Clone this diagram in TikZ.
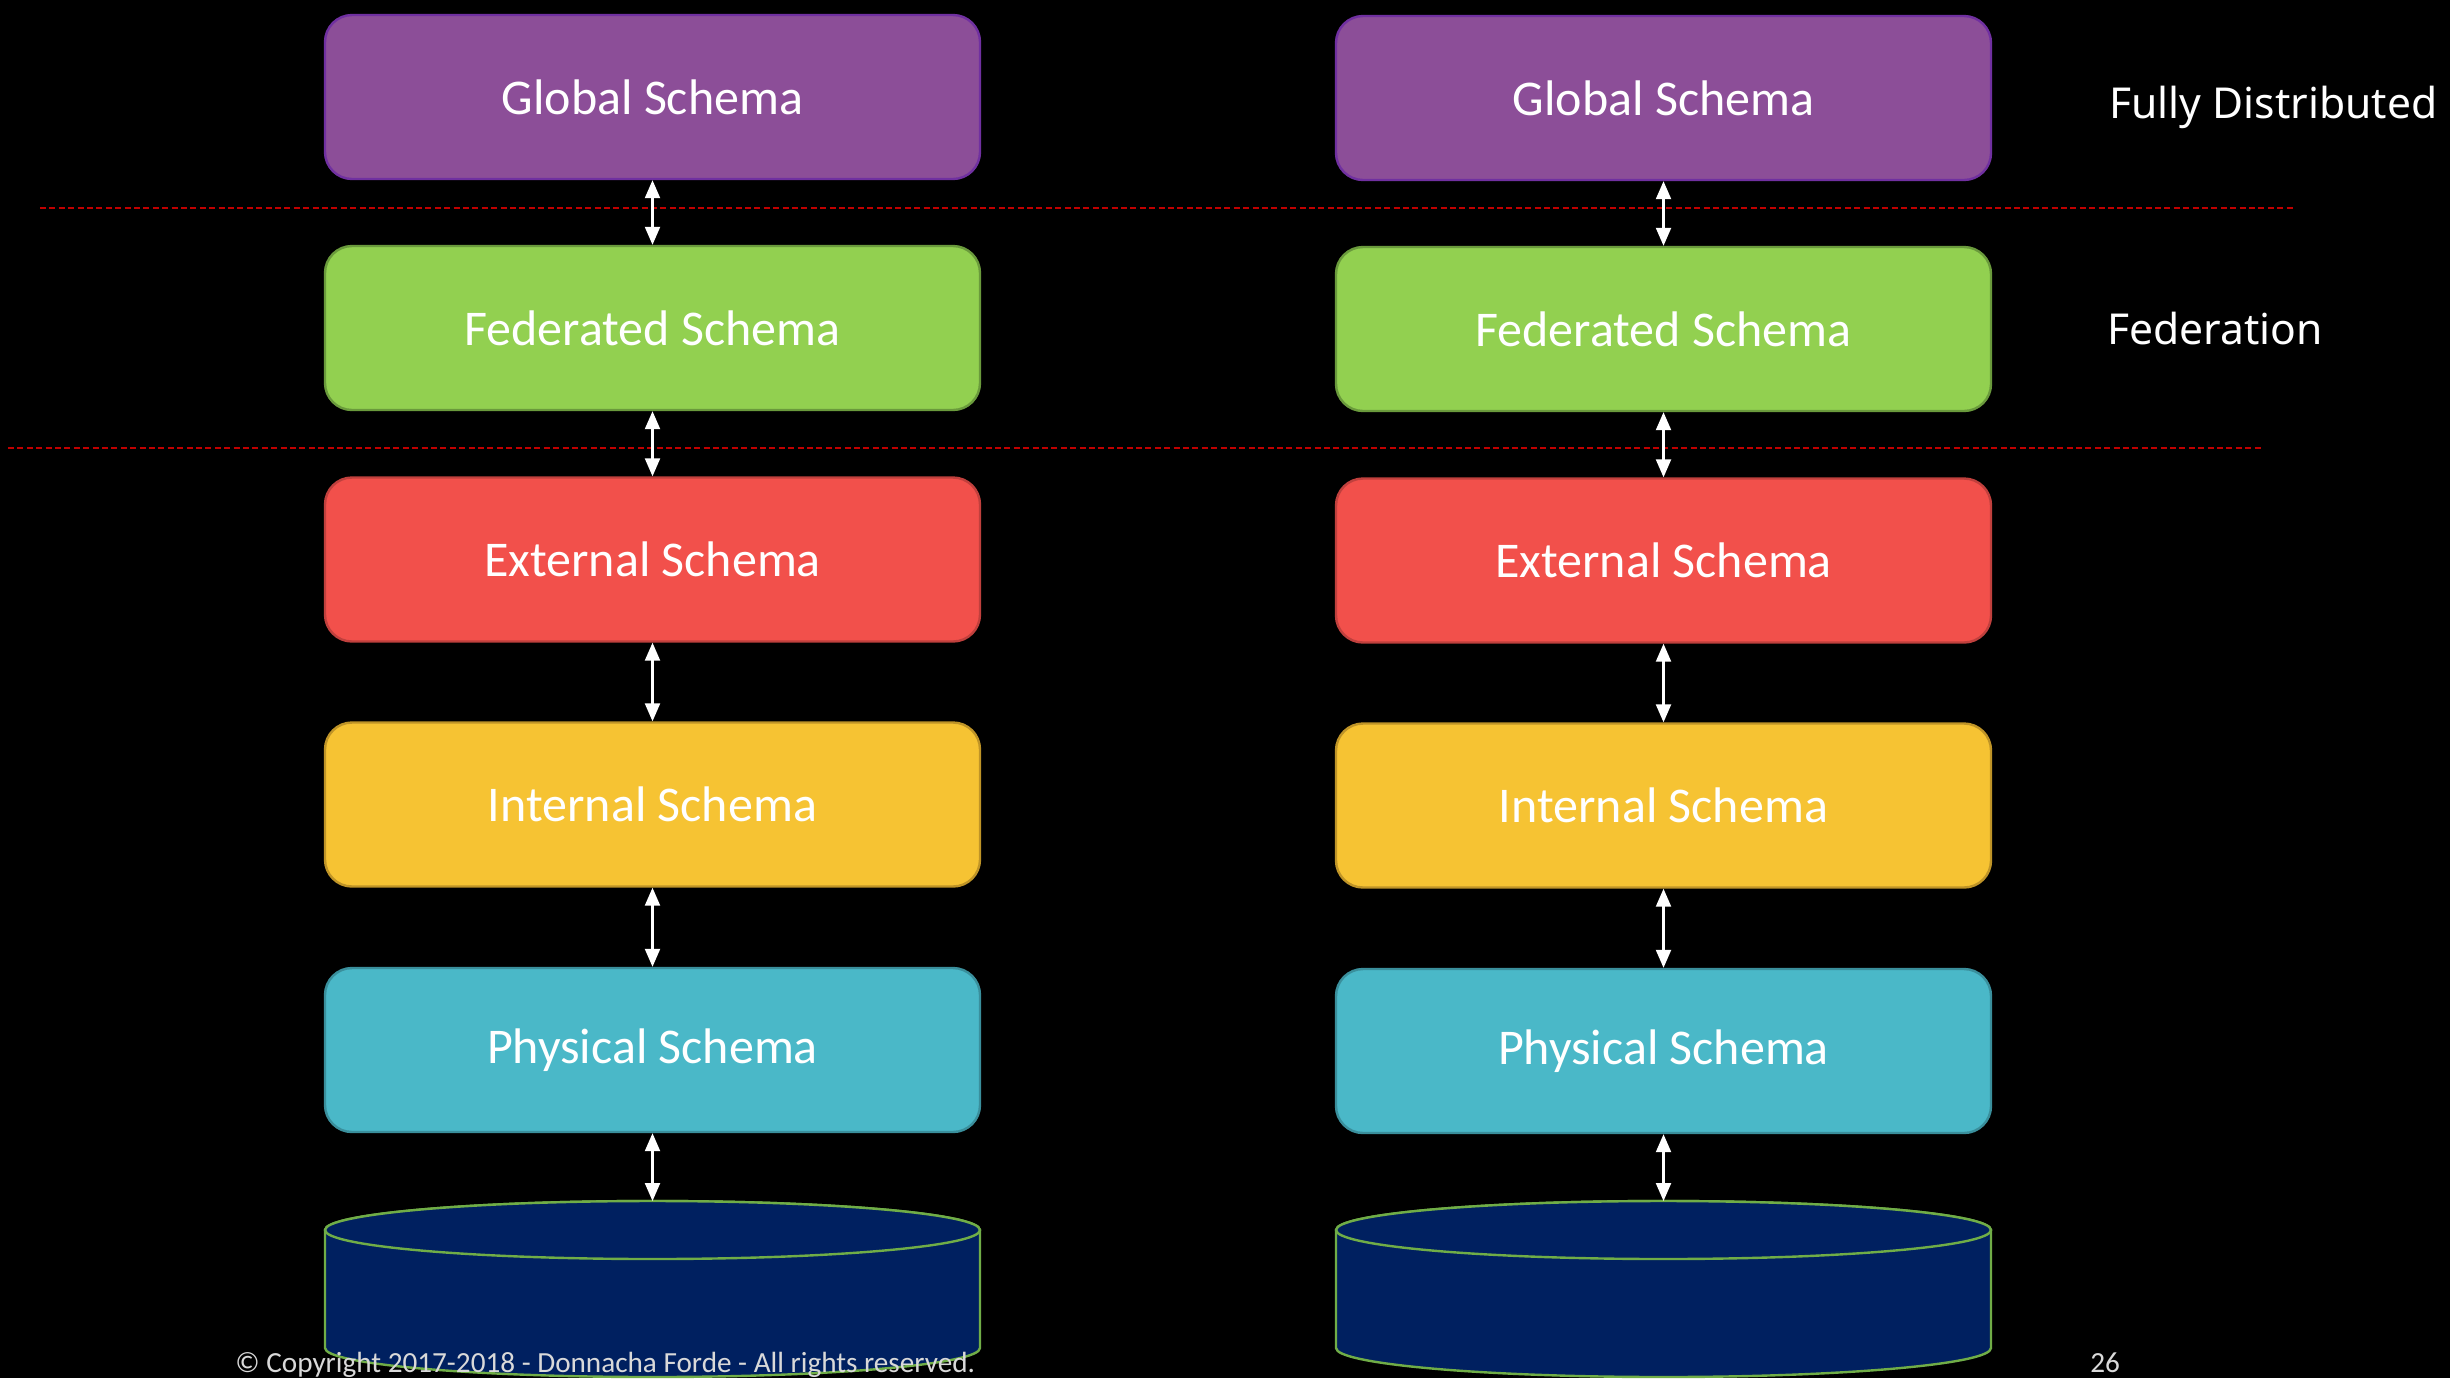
\documentclass[tikz,border=0pt]{standalone}
\usepackage{fontspec}
\setmainfont{Carlito}
\newfontfamily\labelfont{Noto Sans}
\usetikzlibrary{arrows.meta}
\definecolor{purpleF}{HTML}{8C4E98}
\definecolor{purpleD}{HTML}{7030A0}
\definecolor{greenF}{HTML}{92D050}
\definecolor{greenD}{HTML}{6A9A3C}
\definecolor{redF}{HTML}{F2504B}
\definecolor{redD}{HTML}{C0403D}
\definecolor{yellowF}{HTML}{F6C333}
\definecolor{yellowD}{HTML}{BF9427}
\definecolor{tealF}{HTML}{4AB8C8}
\definecolor{tealD}{HTML}{3A8F9C}
\definecolor{cylF}{HTML}{002060}
\definecolor{cylD}{HTML}{70AD47}
\definecolor{dashC}{HTML}{C00000}
\definecolor{footC}{HTML}{D9D9D9}
\tikzset{
  schemabox/.style={rectangle, rounded corners=13.5pt, line width=1.2pt,
    minimum width=327.5pt, minimum height=82pt, inner sep=0pt,
    text=white, font=\fontsize{25pt}{29pt}\selectfont},
  linkarrow/.style={white, line width=1.1pt,
    {Triangle[width=7.5pt,length=9pt]}-{Triangle[width=7.5pt,length=9pt]}},
  sepline/.style={dashC, line width=1pt, dash pattern=on 3pt off 1.7pt},
  sidelabel/.style={anchor=base west, text=white, inner sep=0pt,
    font=\labelfont\fontsize{21.3pt}{25pt}\selectfont},
  footlabel/.style={anchor=base west, text=footC, inner sep=0pt,
    font=\fontsize{14.6pt}{17pt}\selectfont},
  dbbody/.style={fill=cylF, draw=cylD, line width=1.2pt}
}
\begin{document}
\begin{tikzpicture}[x=0.5pt,y=-0.5pt]
\fill[black] (0,0) rectangle (2450,1378);
\useasboundingbox (0,0) rectangle (2450,1378);

% separator lines
\coordinate (s1a) at (40,208);
\coordinate (s1b) at (2295,208);
\coordinate (s2a) at (8,448);
\coordinate (s2b) at (2262,448);
\draw[sepline] (s1a) -- (s1b);
\draw[sepline] (s2a) -- (s2b);

% cylinders
\foreach \cx/\nm in {652.5/dbL, 1663.5/dbR}{
  \draw[dbbody] (\cx-327.5,1230) -- (\cx-327.5,1348)
    arc[start angle=180, end angle=360, x radius=163.75pt, y radius=14.5pt]
    -- (\cx+327.5,1230)
    arc[start angle=0, end angle=180, x radius=163.75pt, y radius=14.5pt] -- cycle;
  \draw[dbbody] (\cx,1230) ellipse [x radius=163.75pt, y radius=14.5pt];
  \coordinate (\nm) at (\cx,1201);
}

% left column
\node[schemabox, fill=purpleF, draw=purpleD] (gL) at (652.5,97) {Global Schema};
\node[schemabox, fill=greenF, draw=greenD] (fL) at (652.5,328) {Federated Schema};
\node[schemabox, fill=redF, draw=redD] (eL) at (652.5,559.5) {External Schema};
\node[schemabox, fill=yellowF, draw=yellowD] (iL) at (652.5,804.5) {Internal Schema};
\node[schemabox, fill=tealF, draw=tealD] (pL) at (652.5,1050) {Physical Schema};

% right column
\node[schemabox, fill=purpleF, draw=purpleD] (gR) at (1663.5,98) {Global Schema};
\node[schemabox, fill=greenF, draw=greenD] (fR) at (1663.5,329) {Federated Schema};
\node[schemabox, fill=redF, draw=redD] (eR) at (1663.5,560.5) {External Schema};
\node[schemabox, fill=yellowF, draw=yellowD] (iR) at (1663.5,805.5) {Internal Schema};
\node[schemabox, fill=tealF, draw=tealD] (pR) at (1663.5,1051) {Physical Schema};

% arrows
\foreach \s in {L,R}{
  \draw[linkarrow] (g\s.south) -- (f\s.north);
  \draw[linkarrow] (f\s.south) -- (e\s.north);
  \draw[linkarrow] (e\s.south) -- (i\s.north);
  \draw[linkarrow] (i\s.south) -- (p\s.north);
  \draw[linkarrow] (p\s.south) -- (db\s);
}

% side labels
\node[sidelabel] (lblFD) at (2109,118) {Fully Distributed};
\node[sidelabel] (lblFed) at (2107,344) {Federation};

% footer
\node[footlabel] (copy) at (235,1372) {© Copyright 2017-2018 - Donnacha Forde - All rights reserved.};
\node[footlabel] (pnum) at (2090,1372) {26};
\end{tikzpicture}
\end{document}
